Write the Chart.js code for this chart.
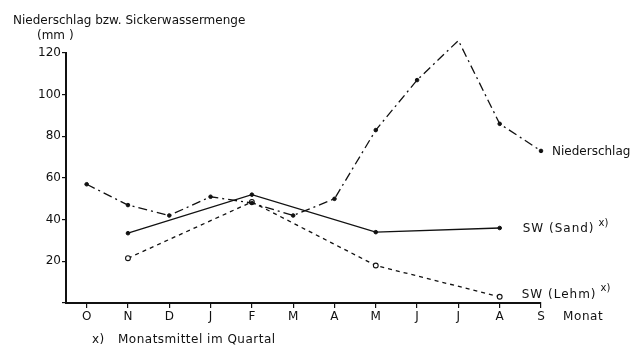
<!DOCTYPE html>
<html>
<head>
<meta charset="utf-8">
<script src="https://cdn.jsdelivr.net/npm/chart.js@4/dist/chart.umd.min.js"></script>
<style>
  html, body { margin: 0; padding: 0; background: #fff; }
  #c { display: block; }
</style>
</head>
<body>
<canvas id="c" width="637" height="348"></canvas>
<script>
// Monthly values (mm), October to September
const months = ['O', 'N', 'D', 'J', 'F', 'M', 'A', 'M', 'J', 'J', 'A', 'S'];
const niederschlag = [57, 47, 42, 51, 48, 42, 50, 83, 107, 126, 86, 73];
// Seepage water: monthly mean per quarter, plotted at the quarter's middle month
const swSand = [null, 33.5, null, null, 52, null, null, 34, null, null, 36, null];
const swLehm = [null, 21.5, null, null, 48.5, null, null, 18, null, null, 3, null];
const yTicks = [20, 40, 60, 80, 100, 120];

const FONT = 'DejaVu Sans';
const INK = '#111';

const toPoints = arr => arr
  .map((v, i) => (v === null ? null : { x: i, y: v }))
  .filter(p => p !== null);

// Label with a raised "x)" footnote mark right after it
function labelWithMark(ctx, text, x, y) {
  ctx.font = '12px "' + FONT + '"';
  ctx.letterSpacing = '1px';
  ctx.fillText(text, x, y);
  const w = ctx.measureText(text).width;
  ctx.letterSpacing = '0px';
  ctx.font = '10px "' + FONT + '"';
  ctx.fillText('x)', x + w + 4, y - 6);
}

// Text annotations next to the series ends, the axis title and the footnote
const annotations = {
  id: 'annotations',
  afterDraw(chart) {
    const ctx = chart.ctx;
    const xs = chart.scales.x, ys = chart.scales.y;
    ctx.save();
    ctx.fillStyle = INK;
    ctx.textBaseline = 'middle';
    ctx.textAlign = 'left';
    ctx.font = '12px "' + FONT + '"';

    // y axis title
    ctx.fillText('Niederschlag bzw. Sickerwassermenge', 13, 21);
    ctx.fillText('(mm )', 37, 36);

    // series labels
    ctx.fillText('Niederschlag', xs.getPixelForValue(11) + 11, ys.getPixelForValue(niederschlag[11]) + 1);
    labelWithMark(ctx, 'SW (Sand)', xs.getPixelForValue(10) + 23, ys.getPixelForValue(swSand[10]) + 1);
    labelWithMark(ctx, 'SW (Lehm)', xs.getPixelForValue(10) + 22, ys.getPixelForValue(swLehm[10]) - 2);

    // x axis unit
    ctx.font = '12px "' + FONT + '"';
    ctx.letterSpacing = '0.6px';
    ctx.fillText('Monat', xs.getPixelForValue(11) + 22, 317);

    // footnote
    ctx.letterSpacing = '0.5px';
    ctx.fillText('x)', 92, 340);
    ctx.fillText('Monatsmittel im Quartal', 118, 340);
    ctx.restore();
  }
};

new Chart(document.getElementById('c'), {
  type: 'line',
  data: {
    datasets: [
      {
        label: 'Niederschlag',
        data: toPoints(niederschlag),
        borderColor: INK,
        borderWidth: 1.3,
        borderDash: [9, 4, 2, 4],
        pointRadius: 1.8,
        pointBackgroundColor: INK,
        pointBorderColor: INK,
        pointBorderWidth: 1,
        tension: 0,
        clip: false
      },
      {
        label: 'SW (Sand)',
        data: toPoints(swSand),
        borderColor: INK,
        borderWidth: 1.3,
        pointRadius: 1.8,
        pointBackgroundColor: INK,
        pointBorderColor: INK,
        pointBorderWidth: 1,
        tension: 0,
        clip: false
      },
      {
        label: 'SW (Lehm)',
        data: toPoints(swLehm),
        borderColor: INK,
        borderWidth: 1.3,
        borderDash: [4, 4],
        pointRadius: 2.4,
        pointBackgroundColor: '#fff',
        pointBorderColor: INK,
        pointBorderWidth: 1.1,
        tension: 0,
        clip: false
      }
    ]
  },
  options: {
    responsive: false,
    animation: false,
    layout: { padding: { left: 0, right: 96, top: 53, bottom: 0 } },
    plugins: {
      legend: { display: false },
      tooltip: { enabled: false }
    },
    scales: {
      x: {
        type: 'linear',
        min: -0.5,
        max: 11,
        afterBuildTicks: s => { s.ticks = months.map((m, i) => ({ value: i })); },
        afterFit: s => { s.height = 45; },
        border: { display: true, color: INK, width: 2 },
        grid: { drawOnChartArea: false, drawTicks: true, tickLength: 5, color: INK, lineWidth: 1.2 },
        ticks: {
          padding: 2,
          color: INK,
          font: { family: FONT, size: 12 },
          maxRotation: 0,
          autoSkip: false,
          callback: v => months[v] ?? ''
        }
      },
      y: {
        min: 0,
        max: 120,
        afterBuildTicks: s => { s.ticks = [0].concat(yTicks).map(v => ({ value: v })); },
        afterFit: s => { s.width = 66; },
        border: { display: true, color: INK, width: 2 },
        grid: { drawOnChartArea: false, drawTicks: true, tickLength: 4, color: INK, lineWidth: 1.2 },
        ticks: {
          padding: 1,
          color: INK,
          font: { family: FONT, size: 12 },
          callback: v => (v === 0 ? '' : String(v))
        }
      }
    }
  },
  plugins: [annotations]
});
</script>
</body>
</html>
